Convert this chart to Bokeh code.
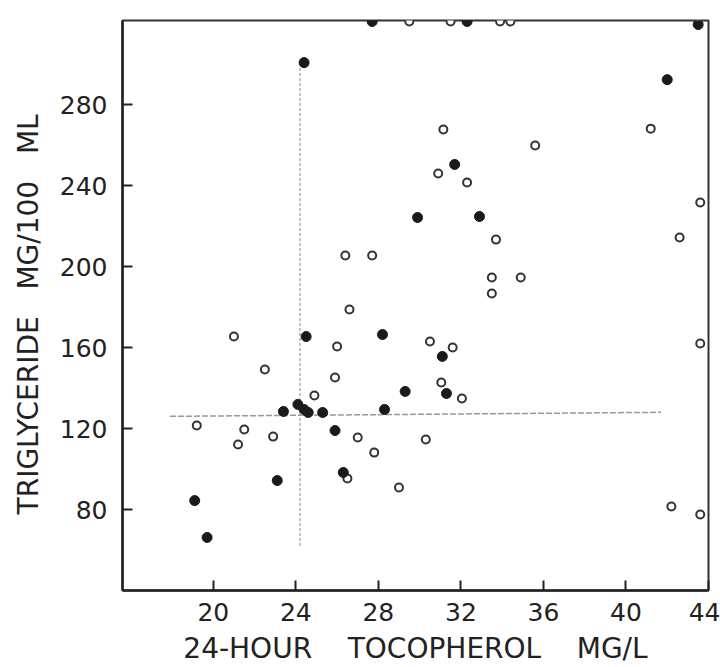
from bokeh.plotting import figure
from bokeh.models import FixedTicker, Range1d
from bokeh.embed import file_html
from bokeh.resources import INLINE

# Filled circles
filled_x = [27.7, 32.3, 43.5, 24.4, 42.0, 31.7, 29.9, 32.9, 24.5, 28.2, 31.1, 31.3,
            29.3, 24.1, 24.4, 24.6, 23.4, 25.3, 28.3, 25.9, 23.1, 26.3, 19.1, 19.7]
filled_y = [321, 321, 319.5, 300.7, 292.3, 250.4, 224.2, 224.7, 165.4, 166.4, 155.6, 137.3,
            138.3, 131.9, 129.4, 127.9, 128.4, 127.9, 129.4, 119.0, 94.3, 98.3, 84.4, 66.2]

# Open circles
open_x = [29.5, 31.5, 33.9, 34.4, 43.5, 41.2, 31.15, 30.9, 32.3, 35.6, 43.6, 33.7,
          42.6, 33.5, 34.9, 33.5, 43.6, 30.5, 31.6, 31.05, 32.05, 26.4, 27.7, 26.6,
          21.0, 26.0, 22.5, 25.9, 24.9, 19.2, 21.5, 21.2, 22.9, 27.0, 27.8, 26.5,
          29.0, 30.3, 42.2, 43.6]
open_y = [321, 321, 321, 321, 322.5, 268.1, 267.7, 245.9, 241.5, 259.8, 231.6, 213.3,
          214.3, 194.6, 194.6, 186.7, 162.0, 163.0, 160.0, 142.7, 134.8, 205.4, 205.4, 178.8,
          165.4, 160.5, 149.1, 145.2, 136.3, 121.5, 119.5, 112.1, 116.0, 115.6, 108.1, 95.3,
          90.9, 114.6, 81.5, 77.5]

# Reference lines (vertical and horizontal divisions)
vline_x = [24.2, 24.2]
vline_y = [62, 300]
hline_x = [17.9, 41.7]
hline_y = [126, 128]

x_ticks = [20, 24, 28, 32, 36, 40, 44]
y_ticks = [80, 120, 160, 200, 240, 280]

NB2 = "\u00a0\u00a0"
NB3 = "\u00a0\u00a0\u00a0"
NB4 = "\u00a0\u00a0\u00a0\u00a0"
x_title = "24-HOUR" + NB4 + "TOCOPHEROL" + NB4 + "MG/L"
y_title = "TRIGLYCERIDE" + NB3 + "MG/100" + NB3 + "ML" + NB2

p = figure(width=720, height=667, output_backend="svg", toolbar_location=None,
           x_range=Range1d(15.6, 44.0), y_range=Range1d(40, 321.5),
           min_border_left=122, min_border_right=12, min_border_top=20,
           min_border_bottom=77)

p.background_fill_color = "white"
p.border_fill_color = "white"
p.grid.visible = False
p.outline_line_color = "#333333"
p.outline_line_width = 2

p.line(vline_x, vline_y, line_color="#b0b0b0", line_width=1.5, line_dash="3 2")
p.line(hline_x, hline_y, line_color="#999999", line_width=1.5, line_dash="6 2")

p.scatter(open_x, open_y, size=8, fill_color="white", line_color="#333333", line_width=2)
p.scatter(filled_x, filled_y, size=10, fill_color="#1a1a1a", line_color="#1a1a1a")

for ax in (p.xaxis[0], p.yaxis[0]):
    ax.axis_line_color = "#222222"
    ax.axis_line_width = 2.5
    ax.major_tick_in = 10
    ax.major_tick_out = 0
    ax.major_tick_line_width = 2
    ax.major_tick_line_color = "#222222"
    ax.minor_tick_in = 0
    ax.minor_tick_out = 0
    ax.major_label_text_font = "DejaVu Sans"
    ax.major_label_text_font_size = "25px"
    ax.major_label_text_color = "#222222"
    ax.axis_label_text_font = "DejaVu Sans"
    ax.axis_label_text_font_style = "normal"
    ax.axis_label_text_color = "#222222"

p.xaxis.ticker = FixedTicker(ticks=x_ticks)
p.yaxis.ticker = FixedTicker(ticks=y_ticks)
p.xaxis.major_label_standoff = 12
p.yaxis.major_label_standoff = 15
p.xaxis.axis_label = x_title
p.yaxis.axis_label = y_title
p.xaxis.axis_label_text_font_size = "28px"
p.yaxis.axis_label_text_font_size = "28px"
p.xaxis.axis_label_standoff = 8
p.yaxis.axis_label_standoff = 12

open("out.html", "w").write(file_html(p, INLINE))
